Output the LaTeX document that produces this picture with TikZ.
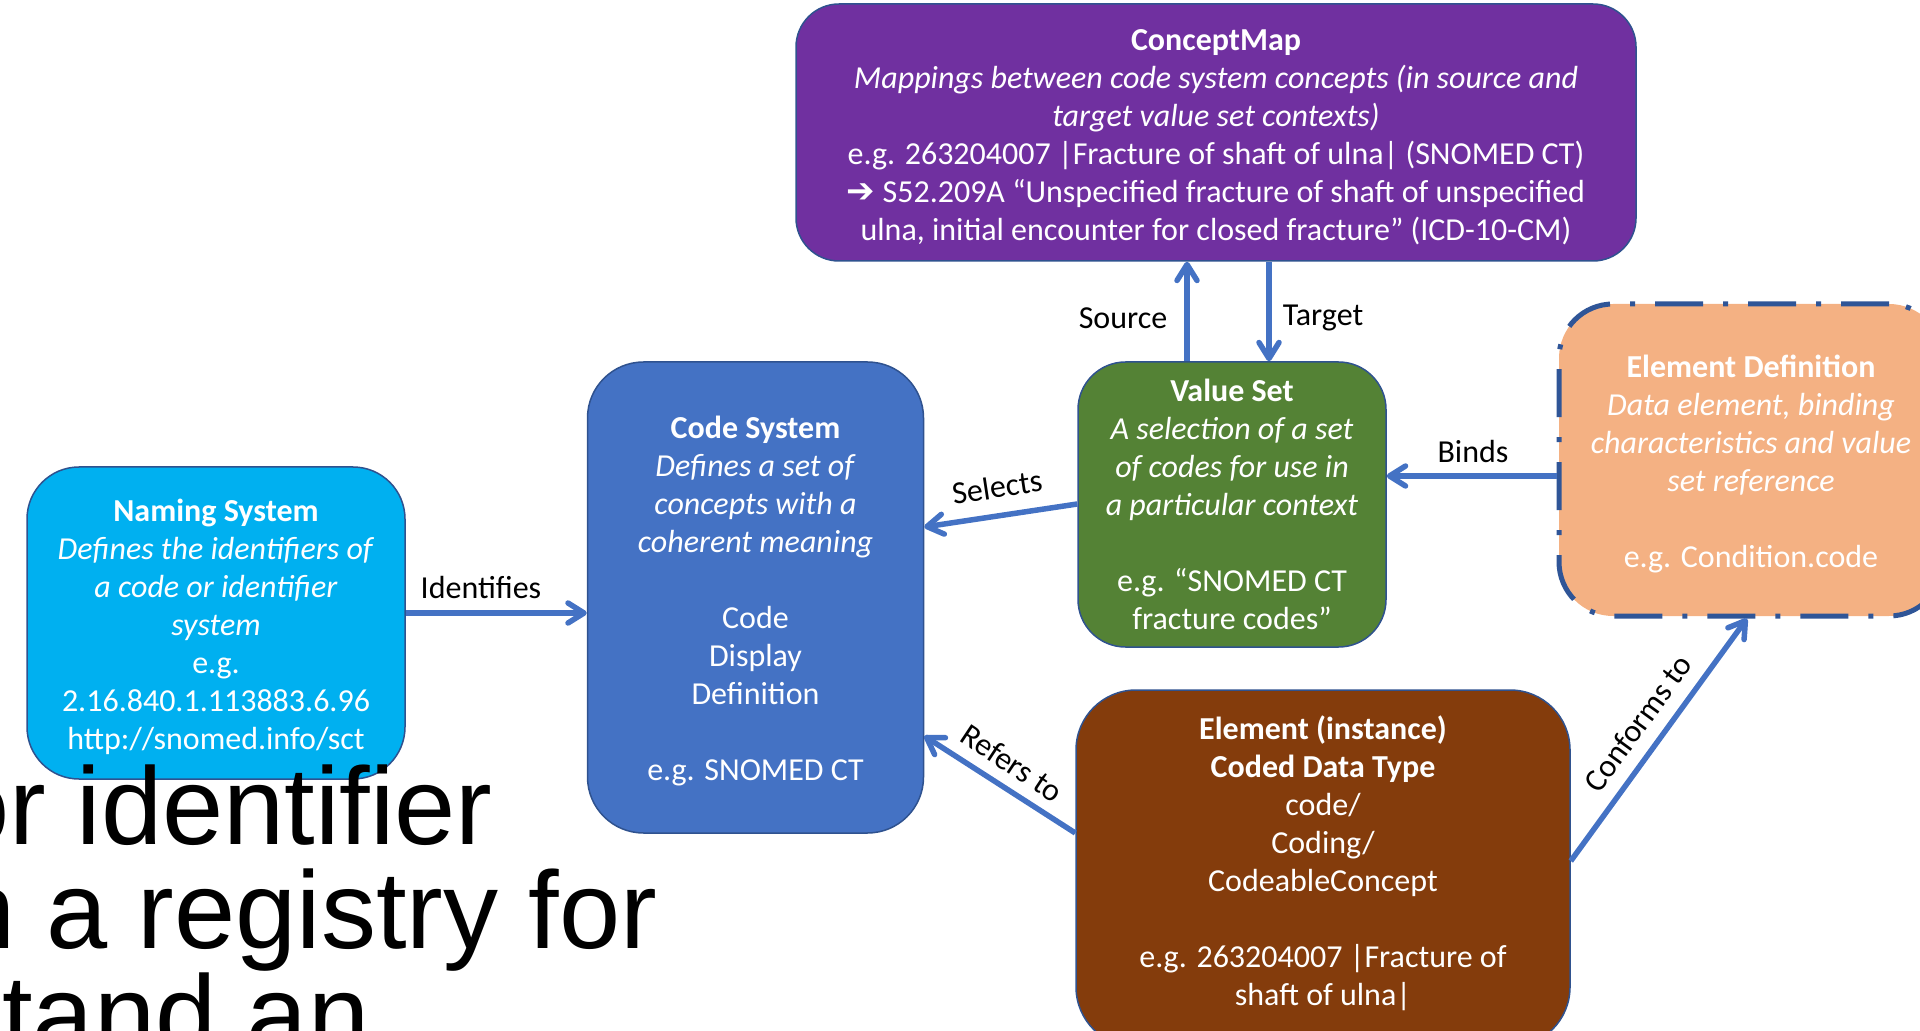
\documentclass[tikz,border=0pt]{standalone}
\usepackage{fontspec}
\setmainfont{Carlito}
\newfontfamily\bigsans[Ligatures=NoCommon]{Liberation Sans}
\newfontfamily\symfont{DejaVu Sans}
\usetikzlibrary{arrows.meta}

\definecolor{cmpurple}{HTML}{7030A0}
\definecolor{vsgreen}{HTML}{548235}
\definecolor{csblue}{HTML}{4472C4}
\definecolor{nscyan}{HTML}{00B0F0}
\definecolor{elbrown}{HTML}{843C0C}
\definecolor{edorange}{HTML}{F4B183}
\definecolor{outline}{HTML}{2F528F}
\definecolor{dashblue}{HTML}{2F5597}
\definecolor{arrowblue}{HTML}{4472C4}

% invisible strut that gives every box's first line the same height
\newcommand\boxtopstrut{\rule{0pt}{15pt}}

\begin{document}
\begin{tikzpicture}[x=0.5pt,y=-0.5pt,
  box/.style={draw=outline, line width=0.75pt, text=white, align=center,
              inner sep=0pt, font=\fontsize{16}{19}\selectfont},
  boxtext/.style={text=white, align=center, inner sep=0pt,
              font=\fontsize{16}{19}\selectfont},
  conn/.style={draw=arrowblue, line width=2.75pt,
              -{Straight Barb[length=8pt,width=10pt,round]}},
  lbl/.style={font=\fontsize{16}{19}\selectfont, text=black, inner sep=0pt},
  bigtext/.style={font=\bigsans\fontsize{55}{55}\selectfont, text=black,
              anchor=base west, inner sep=0pt}
]
\useasboundingbox (0,0) rectangle (1920,1031);
\clip (0,0) rectangle (1920,1031);

% ---- boxes ----
\node[box, fill=cmpurple, minimum width=420pt, minimum height=128.5pt,
      rounded corners=21.5pt] (cm) at (1216,132.5)
  {\boxtopstrut\textbf{ConceptMap}\\
   \textit{Mappings between code system concepts (in source and}\\
   \textit{target value set contexts)}\\
   e.g. 263204007 |Fracture of shaft of ulna| (SNOMED CT)\\
   {\symfont\bfseries\fontsize{17}{19}\selectfont ➔} S52.209A “Unspecified fracture of shaft of unspecified\\
   ulna, initial encounter for closed fracture” (ICD-10-CM)};

\node[box, fill=vsgreen, minimum width=154pt, minimum height=142.5pt,
      rounded corners=23.75pt] (vs) at (1232,504.5)
  {\boxtopstrut\textbf{Value Set}\\
   \textit{A selection of a set}\\
   \textit{of codes for use in}\\
   \textit{a particular context}\\[19pt]
   e.g. “SNOMED CT\\
   fracture codes”\rule[-4pt]{0pt}{4pt}};

\node[box, fill=edorange, draw=dashblue, line width=2.5pt,
      dash pattern=on 24pt off 10pt on 2.5pt off 10pt,
      minimum width=192pt, minimum height=156pt,
      rounded corners=27pt] (ed) at (1751,460)
  {\boxtopstrut\textbf{Element Definition}\\
   \textit{Data element, binding}\\
   \textit{characteristics and value}\\
   \textit{set reference}\\[19pt]
   e.g. Condition.code};

\node[box, fill=csblue, minimum width=168pt, minimum height=235.5pt,
      rounded corners=28pt] (cs) at (755.5,597.5)
  {\boxtopstrut\textbf{Code System}\\
   \textit{Defines a set of}\\
   \textit{concepts with a}\\
   \textit{coherent meaning}\\[19pt]
   Code\\
   Display\\
   Definition\\[19pt]
   e.g. SNOMED CT};

\node[box, fill=nscyan, minimum width=189pt, minimum height=156pt,
      rounded corners=26pt] (ns) at (216,623)
  {\boxtopstrut\textbf{Naming System}\\
   \textit{Defines the identifiers of}\\
   \textit{a code or identifier}\\
   \textit{system}\\
   e.g.\\
   2.16.840.1.113883.6.96\\
   http://snomed.info/sct};

\node[box, fill=elbrown, minimum width=247pt, minimum height=178.5pt,
      rounded corners=30pt] (el) at (1323,868.5) {};
\node[boxtext] (elt) at (1323,860.5)
  {\boxtopstrut\textbf{Element (instance)}\\
   \textbf{Coded Data Type}\\
   code/\\
   Coding/\\
   CodeableConcept\\[19pt]
   e.g. 263204007 |Fracture of\\
   shaft of ulna|};

% ---- connectors ----
\draw[conn] ([yshift=5pt]ns.east) -- ([yshift=5pt]ns.east -| cs.west);
\draw[conn] ([yshift=0.25pt]vs.west) -- ([yshift=35.25pt]cs.east);
\draw[conn] ([yshift=17.75pt]el.west) -- ([yshift=-69.25pt]cs.east);
\draw[conn] ([xshift=-22.5pt]vs.north) -- ([xshift=-14.5pt]cm.south);
\draw[conn] ([xshift=26.5pt]cm.south) -- ([xshift=18.5pt]vs.north);
\draw[conn] ([yshift=-8pt]ed.west) -- ([yshift=14.25pt]vs.east);
\draw[conn] ([yshift=3.75pt]el.east) -- ([xshift=-2pt]ed.south);

% ---- connector labels ----
\node[lbl] (lid) at (481,588) {Identifies};
\node[lbl, rotate=8.6] (lsel) at (997,487) {Selects};
\node[lbl, rotate=-33.6] (lref) at (1012,763) {Refers to};
\node[lbl] (lsrc) at (1123,318) {Source};
\node[lbl] (ltgt) at (1323,318) {Target};
\node[lbl] (lbind) at (1473,452) {Binds};
\node[lbl, rotate=54] (lconf) at (1638,723) {Conforms to};

% ---- large overlapping slide text ----
\node[bigtext] (t1) at (-52,844) {or identifier};
\node[bigtext] (t2) at (-46,948) {n a registry for};
\node[bigtext] (t3) at (2,1052) {tand an};
\end{tikzpicture}
\end{document}
